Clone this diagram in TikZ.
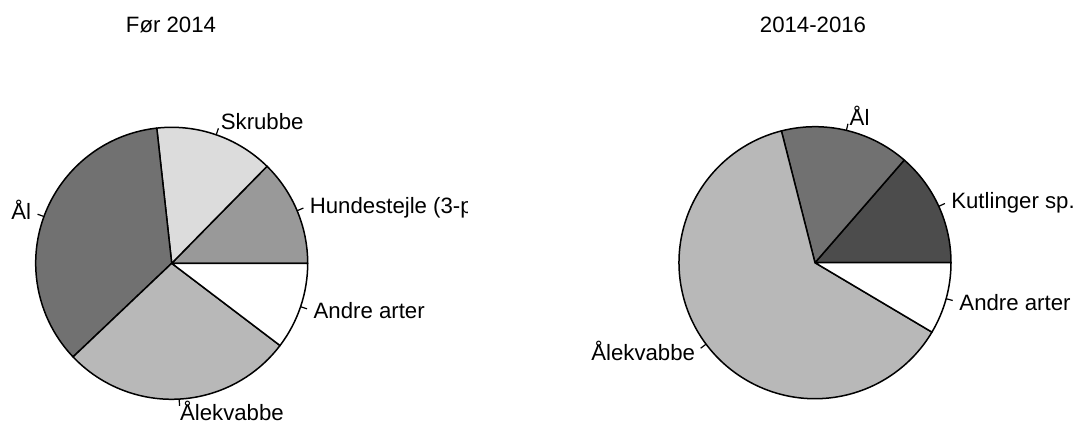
\documentclass[tikz,border=0pt]{standalone}
\usepackage{fontspec}
\setmainfont{Liberation Sans}
\usetikzlibrary{calc}
\definecolor{cAal}{gray}{0.443}
\definecolor{cSkrubbe}{gray}{0.863}
\definecolor{cHunde}{gray}{0.60}
\definecolor{cKvabbe}{gray}{0.72}
\definecolor{cKut}{gray}{0.30}
\tikzset{
  slice/.style={draw=black, line width=1.5pt, line join=round},
  tickline/.style={draw=black, line width=1.2pt},
  lbl/.style={inner sep=0pt, font=\fontsize{22.2}{26}\selectfont, text height=15.9pt, text depth=0pt},
  ttl/.style={inner sep=0pt, font=\fontsize{22.2}{26}\selectfont, anchor=base}
}
\def\R{136pt}
\newcommand\pieslice[4]{%
  \filldraw[slice, fill=#4] (#1) -- ($(#1)+(#2:\R)$) arc[start angle=#2, end angle=#3, radius=\R] -- cycle;}
\newcommand\pietick[2]{%
  \draw[tickline] ($(#1)+(#2:\R)$) -- ($(#1)+(#2:{1.05*\R})$);}
\begin{document}
\begin{tikzpicture}[x=1pt,y=1pt]
\useasboundingbox (0,0) rectangle (1076,425);
\coordinate (L) at (171.7,161.7);
\coordinate (Rc) at (815,162.3);
% titles
\node[ttl] (t1) at (171,392.3) {Før 2014};
\node[ttl] (t2) at (813,392.3) {2014-2016};
% left pie
\pieslice{L}{0}{45.5}{cHunde}
\pieslice{L}{45.5}{96.3}{cSkrubbe}
\pieslice{L}{96.3}{223.5}{cAal}
\pieslice{L}{223.5}{322.8}{cKvabbe}
\pieslice{L}{322.8}{360}{white}
\pietick{L}{22.75}
\pietick{L}{70.9}
\pietick{L}{159.9}
\pietick{L}{273.15}
\pietick{L}{341.4}
\begin{scope}
\clip (0,0) rectangle (467,425);
\node[lbl, anchor=west] (l1) at ($(L)+(22.75:{1.1*\R})$) {Hundestejle (3-pigget)};
\end{scope}
\node[lbl, anchor=west] (l2) at ($(L)+(70.9:{1.1*\R})$) {Skrubbe};
\node[lbl, anchor=east] (l3) at ($(L)+(159.9:{1.1*\R})$) {Ål};
\node[lbl, anchor=west] (l4) at ($(L)+(273.15:{1.1*\R})$) {Ålekvabbe};
\node[lbl, anchor=west] (l5) at ($(L)+(341.4:{1.1*\R})$) {Andre arter};
% right pie
\pieslice{Rc}{0}{49}{cKut}
\pieslice{Rc}{49}{104.3}{cAal}
\pieslice{Rc}{104.3}{329.3}{cKvabbe}
\pieslice{Rc}{329.3}{360}{white}
\pietick{Rc}{24.5}
\pietick{Rc}{76.65}
\pietick{Rc}{216.8}
\pietick{Rc}{344.65}
\node[lbl, anchor=west] (r1) at ($(Rc)+(24.5:{1.1*\R})$) {Kutlinger sp.};
\node[lbl, anchor=west] (r2) at ($(Rc)+(76.65:{1.1*\R})$) {Ål};
\node[lbl, anchor=east] (r3) at ($(Rc)+(216.8:{1.1*\R})$) {Ålekvabbe};
\node[lbl, anchor=west] (r4) at ($(Rc)+(344.65:{1.1*\R})$) {Andre arter};
\end{tikzpicture}
\end{document}
